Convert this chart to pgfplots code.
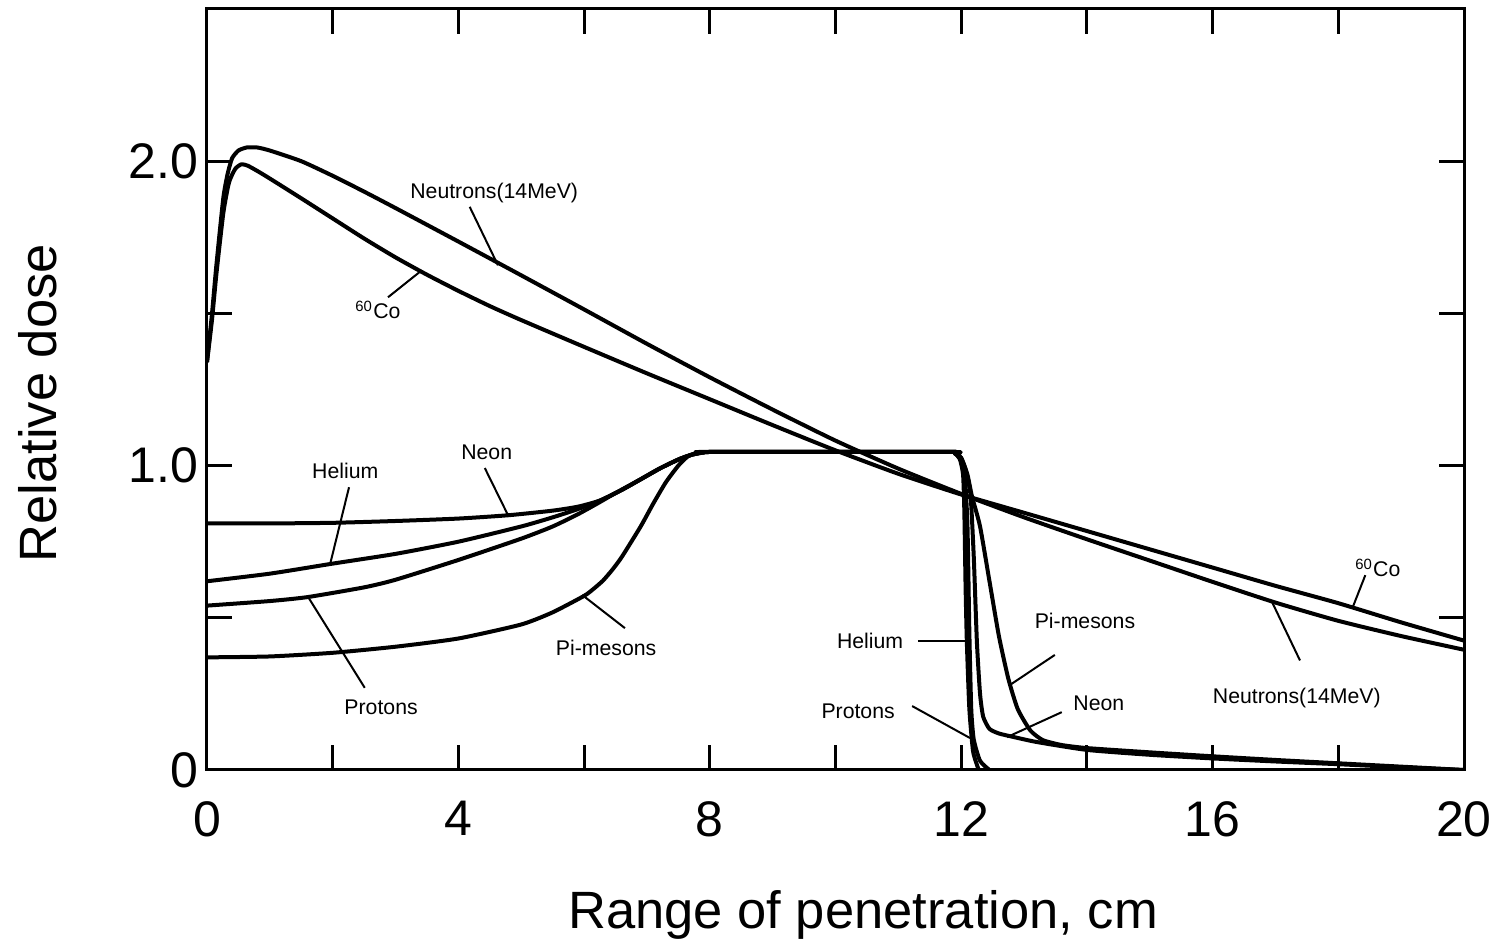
\documentclass[border=0pt]{standalone}
\usepackage{pgfplots}
\pgfplotsset{compat=1.18}
\usepackage{fontspec}
\setmainfont{Liberation Sans}
\tikzset{curve/.style={black, solid, line width=1.6pt, mark=none, line join=round, smooth, tension=0.35}}
\begin{document}
\begin{tikzpicture}
\begin{axis}[
  scale only axis, width=502.8pt, height=304.4pt,
  xmin=0, xmax=20, ymin=0, ymax=2.5,
  xtick={0,2,...,20}, xticklabels={0,,4,,8,,12,,16,,20},
  ytick={0,0.5,1,1.5,2}, yticklabels={0,,1.0,,2.0},
  tick align=inside, tick pos=both,
  major tick length=10pt,
  /pgf/number format/assume math mode=true,
  axis line style={line width=1.2pt},
  every tick/.style={line width=1.2pt, black},
  tick label style={font=\fontsize{20}{24}\selectfont},
  xticklabel style={yshift=-9pt},
  xlabel={Range of penetration, cm}, ylabel={Relative dose},
  label style={font=\fontsize{21}{25}\selectfont},
  xlabel style={at={([yshift=-58pt]axis description cs:0.522,0)}, anchor=center},
  ylabel style={at={([xshift=-67.6pt]axis description cs:0,0.482)}, anchor=center},
]
% Neutrons (14 MeV)
\addplot[curve] coordinates {(0,1.34)(0.08,1.5)(0.15,1.66)(0.26,1.88)(0.33,1.96)(0.4,2.01)(0.5,2.035)(0.63,2.045)(0.8,2.045)(1,2.035)(1.5,2.0)(2,1.952)(2.5,1.9)(3,1.846)(4,1.736)(5,1.625)(6,1.513)(7,1.40)(8,1.29)(9,1.184)(10,1.082)(11,0.99)(12,0.907)(13,0.83)(14,0.758)(15,0.688)(16,0.618)(17,0.55)(18,0.49)(19,0.44)(20,0.395)};
% 60Co
\addplot[curve] coordinates {(0,1.34)(0.08,1.48)(0.15,1.63)(0.26,1.83)(0.35,1.93)(0.45,1.975)(0.55,1.99)(0.65,1.985)(0.8,1.968)(1,1.943)(1.5,1.878)(2,1.812)(2.5,1.746)(3,1.684)(3.5,1.627)(4,1.574)(4.5,1.524)(5,1.478)(6,1.39)(7,1.303)(8,1.218)(9,1.133)(10,1.05)(11,0.973)(12,0.905)(13,0.845)(14,0.785)(15,0.725)(16,0.665)(17,0.605)(18,0.548)(19,0.485)(20,0.425)};
% Neon
\addplot[curve] coordinates {(0,0.81)(1,0.81)(2,0.812)(3,0.818)(4,0.826)(4.8,0.837)(5.5,0.852)(5.9,0.865)(6.25,0.885)(6.6,0.92)(6.9,0.955)(7.2,0.99)(7.5,1.02)(7.7,1.035)(7.9,1.043)(8.2,1.045)(11.8,1.045)(11.9,1.04)(12.0,1.025)(12.08,0.98)(12.15,0.90)(12.2,0.7)(12.25,0.42)(12.3,0.25)(12.35,0.175)(12.45,0.135)(12.6,0.12)(12.8,0.11)(13.2,0.092)(14,0.066)(15,0.05)(16,0.038)(17,0.028)(18,0.019)(19,0.009)(20,0.0)};
% Helium
\addplot[curve] coordinates {(0,0.62)(1,0.645)(2,0.678)(3,0.71)(4,0.75)(5,0.80)(5.5,0.83)(5.9,0.857)(6.25,0.885)(6.6,0.92)(6.9,0.955)(7.2,0.99)(7.5,1.02)(7.7,1.035)(7.9,1.043)(8.2,1.045)(11.8,1.045)(11.9,1.04)(11.98,1.02)(12.03,0.97)(12.05,0.85)(12.07,0.6)(12.09,0.42)(12.13,0.2)(12.19,0.06)(12.28,0.0)};
% Protons
\addplot[curve] coordinates {(0,0.54)(1,0.555)(1.6,0.568)(2.5,0.6)(3,0.625)(4,0.69)(5,0.76)(5.5,0.80)(5.9,0.84)(6.25,0.88)(6.5,0.91)(6.9,0.955)(7.2,0.99)(7.5,1.02)(7.7,1.035)(7.9,1.043)(8.2,1.045)(11.8,1.045)(11.9,1.04)(12.0,1.02)(12.06,0.96)(12.1,0.8)(12.13,0.45)(12.16,0.2)(12.2,0.1)(12.3,0.03)(12.45,0.0)};
% Pi-mesons
\addplot[curve] coordinates {(0,0.37)(1,0.373)(2,0.385)(3,0.405)(4,0.432)(5,0.478)(5.5,0.518)(6,0.572)(6.15,0.595)(6.3,0.622)(6.45,0.658)(6.6,0.70)(6.9,0.80)(7.1,0.875)(7.3,0.945)(7.5,1.0)(7.65,1.03)(7.8,1.042)(8.0,1.045)(11.8,1.045)(11.9,1.04)(12.0,1.025)(12.1,0.97)(12.17,0.90)(12.3,0.80)(12.45,0.62)(12.6,0.44)(12.75,0.30)(12.9,0.2)(13.1,0.13)(13.3,0.098)(13.6,0.082)(14,0.072)(15,0.058)(16,0.045)(17,0.033)(18,0.022)(19,0.011)(20,0.0)};
% annotations
\tikzset{lab/.style={font=\fontsize{8.5}{10}\selectfont, inner sep=0pt}, ptr/.style={line width=0.8pt}}
\node[lab] at (axis cs:4.57,1.895) {Neutrons(14MeV)};
\draw[ptr] (axis cs:4.18,1.85) -- (axis cs:4.63,1.658);
\node[lab] at (axis cs:2.72,1.51) {\textsuperscript{60}Co};
\draw[ptr] (axis cs:2.88,1.553) -- (axis cs:3.39,1.637);
\node[lab] at (axis cs:2.2,0.982) {Helium};
\draw[ptr] (axis cs:2.26,0.929) -- (axis cs:1.96,0.677);
\node[lab] at (axis cs:4.45,1.044) {Neon};
\draw[ptr] (axis cs:4.42,0.992) -- (axis cs:4.79,0.837);
\node[lab] at (axis cs:2.77,0.207) {Protons};
\draw[ptr] (axis cs:2.51,0.27) -- (axis cs:1.61,0.568);
\node[lab] at (axis cs:6.35,0.40) {Pi-mesons};
\draw[ptr] (axis cs:6.65,0.466) -- (axis cs:5.97,0.575);
\node[lab] at (axis cs:10.55,0.424) {Helium};
\draw[ptr] (axis cs:11.31,0.424) -- (axis cs:12.06,0.424);
\node[lab] at (axis cs:13.97,0.489) {Pi-mesons};
\draw[ptr] (axis cs:13.49,0.378) -- (axis cs:12.78,0.28);
\node[lab] at (axis cs:10.36,0.194) {Protons};
\draw[ptr] (axis cs:11.22,0.21) -- (axis cs:12.14,0.105);
\node[lab] at (axis cs:14.19,0.22) {Neon};
\draw[ptr] (axis cs:13.6,0.19) -- (axis cs:12.73,0.108);
\node[lab] at (axis cs:18.63,0.663) {\textsuperscript{60}Co};
\draw[ptr] (axis cs:18.43,0.64) -- (axis cs:18.23,0.535);
\node[lab] at (axis cs:17.34,0.236) {Neutrons(14MeV)};
\draw[ptr] (axis cs:16.95,0.55) -- (axis cs:17.39,0.36);
\end{axis}
\pgfresetboundingbox
\path ([xshift=-82.8pt,yshift=-71.6pt]current axis.south west) rectangle ([xshift=14.8pt,yshift=3.6pt]current axis.north east);
\end{tikzpicture}
\end{document}
